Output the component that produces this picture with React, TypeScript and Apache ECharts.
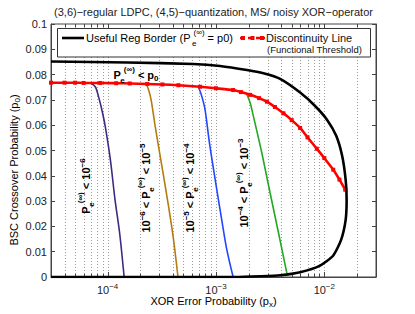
import React, { useEffect, useRef } from 'react';
import * as echarts from 'echarts';

const FF = '"Liberation Sans", Arial, Helvetica, sans-serif';

const titleText = '(3,6)\u2212regular LDPC, (4,5)\u2212quantization, MS/ noisy XOR\u2212operator';
const xAxisTitle = 'XOR Error Probability (p';
const yAxisTitle = 'BSC Crossover Probability (p';
const legendBorderLabel = 'Useful Reg Border (P';
const legendThreshLabel = 'Discontinuity Line';
const legendThreshSub = '(Functional Threshold)';

const xRange = [3e-5, 3e-2];
const yRange = [0, 0.1];
const yTickStep = 0.01;
const xGridTicks = [
  4e-5, 5e-5, 6e-5, 7e-5, 8e-5, 9e-5,
  1e-4, 2e-4, 3e-4, 4e-4, 5e-4, 6e-4, 7e-4, 8e-4, 9e-4,
  1e-3, 2e-3, 3e-3, 4e-3, 5e-3, 6e-3, 7e-3, 8e-3, 9e-3,
  1e-2, 2e-2,
];

// Useful region border (black)
const borderPx = [3.0e-5, 1.52e-4, 6.17e-4, 1.09e-3, 1.93e-3, 2.74e-3, 3.91e-3, 5.98e-3, 8.22e-3, 1.062e-2, 1.285e-2, 1.459e-2, 1.574e-2, 1.607e-2, 1.574e-2, 1.429e-2, 1.205e-2, 9.14e-3, 5.98e-3, 3.91e-3, 2.56e-3, 1.50e-3, 3.0e-5];
const borderP0 = [0.0852, 0.0848, 0.0842, 0.0834, 0.0818, 0.0805, 0.0783, 0.0729, 0.0676, 0.0621, 0.0559, 0.0480, 0.0384, 0.0305, 0.0226, 0.0147, 0.0084, 0.0045, 0.0019, 0.0007, 0.0003, 0, 0];

// Discontinuity line (red)
const threshPx = [3.0e-5, 4e-5, 5e-5, 6e-5, 8.55e-5, 1.2e-4, 1.6e-4, 2.32e-4, 3.2e-4, 4.5e-4, 7.14e-4, 1.0e-3, 1.44e-3, 1.7e-3, 2.07e-3, 2.5e-3, 2.95e-3, 3.5e-3, 4.2e-3, 5.0e-3, 5.98e-3, 7.0e-3, 8.53e-3, 1.0e-2, 1.21e-2, 1.38e-2, 1.56e-2];
const threshP0 = [0.0768, 0.0768, 0.0768, 0.0767, 0.0767, 0.0766, 0.0765, 0.0763, 0.0761, 0.0758, 0.0752, 0.0746, 0.0739, 0.0731, 0.0720, 0.0707, 0.0693, 0.0672, 0.0647, 0.0620, 0.0589, 0.0552, 0.0507, 0.0470, 0.0424, 0.0385, 0.0345];

// Pe < 1e-6 boundary (purple)
const purplePx = [6.91e-5, 7.69e-5, 8.24e-5, 8.85e-5, 9.51e-5, 1.06e-4, 1.17e-4, 1.29e-4, 1.42e-4];
const purpleP0 = [0.0768, 0.0752, 0.0713, 0.0660, 0.0594, 0.0463, 0.0305, 0.0174, 0];

// 1e-6..1e-5 boundary (brown)
const brownPx = [2.27e-4, 2.39e-4, 2.52e-4, 2.75e-4, 3.17e-4, 3.65e-4, 4.06e-4, 4.46e-4];
const brownP0 = [0.0765, 0.0739, 0.0700, 0.0594, 0.0437, 0.0279, 0.0147, 0];

// 1e-5..1e-4 boundary (blue)
const bluePx = [6.86e-4, 7.41e-4, 7.94e-4, 8.71e-4, 9.84e-4, 1.13e-3, 1.26e-3, 1.44e-3];
const blueP0 = [0.0754, 0.0713, 0.0660, 0.0529, 0.0384, 0.0226, 0.0107, 0];

// 1e-4..1e-3 boundary (green)
const greenPx = [1.93e-3, 2.07e-3, 2.22e-3, 2.65e-3, 3.16e-3, 3.78e-3, 4.51e-3];
const greenP0 = [0.0722, 0.0688, 0.0634, 0.0490, 0.0332, 0.0174, 0.0015];

const pairs = (xs: number[], ys: number[]) => xs.map((x, i) => [x, ys[i]]);

function rich(size: number, weight: string) {
  const base = { fontFamily: FF, fontWeight: weight, color: '#111' };
  const small = Math.round(size * 0.75);
  const off = Math.round(size * 0.65);
  const offz = off + 4;
  return {
    n: { ...base, fontSize: size },
    sp: { ...base, fontSize: small, padding: [0, 0, off, 0] },
    sb: { ...base, fontSize: small, padding: [off, 0, 0, 0] },
    spz: { ...base, fontSize: small, padding: [0, 0, offz, 1] },
    sbz: { ...base, fontSize: small, padding: [offz, 0, 0, 1.5], width: 0.5 },
  };
}

const PE = '{n|P}{sbz|e}{spz|(\u221e)}';

export default function App() {
  const ref = useRef<HTMLDivElement>(null);
  useEffect(() => {
    const chart = echarts.init(ref.current as HTMLDivElement, null, { renderer: 'svg' });
    const axisColor = '#444';
    const boldRich = rich(11, 'bold');
    const normRich = rich(11, 'normal');
    const regionLabels = [
      { text: PE + '{n| < 10}{sp|\u22126}', x: 86, y: 186 },
      { text: '{n|10}{sp|\u22126}{n| < }' + PE + '{n| < 10}{sp|\u22125}', x: 146, y: 188 },
      { text: '{n|10}{sp|\u22125}{n| < }' + PE + '{n| < 10}{sp|\u22124}', x: 190, y: 188 },
      { text: '{n|10}{sp|\u22124}{n| < }' + PE + '{n| < 10}{sp|\u22123}', x: 244, y: 183 },
    ];
    const option: any = {
      animation: false,
      grid: { left: 51, top: 24, width: 325, height: 253, show: true, borderColor: axisColor, borderWidth: 1, backgroundColor: 'transparent' },
      xAxis: {
        type: 'log', logBase: 10, min: xRange[0], max: xRange[1],
        axisLine: { show: true, lineStyle: { color: axisColor } },
        axisTick: { show: false },
        splitLine: { show: false },
        axisLabel: {
          margin: 5,
          showMinLabel: false, showMaxLabel: false,
          formatter: (v: number) => {
            const lg = Math.log10(v);
            const e = Math.round(lg);
            if (Math.abs(lg - e) > 1e-6) return '';
            return '{b|10}{s|\u2212' + (-e) + '}';
          },
          rich: {
            b: { fontSize: 11, fontFamily: FF, color: '#222' },
            s: { fontSize: 8, fontFamily: FF, color: '#222', padding: [0, 0, 7, 0] },
          },
        },
      },
      yAxis: [0, 1].map((i) => ({
        type: 'value', min: yRange[0], max: yRange[1], interval: yTickStep,
        position: i === 0 ? 'left' : 'right',
        axisLine: { show: true, lineStyle: { color: axisColor } },
        axisTick: { show: true, inside: true, length: 4, lineStyle: { color: axisColor } },
        splitLine: { show: false },
        axisLabel: { show: i === 0, fontSize: 11, fontFamily: FF, color: '#222', margin: 4 },
      })),
      series: [
        {
          type: 'custom', data: xGridTicks.map((v) => [v, yRange[0]]), encode: { x: 0, y: 1 },
          silent: true, z: 1, clip: false,
          renderItem: (params: any, api: any) => {
            const v = api.value(0);
            const b = api.coord([v, yRange[0]]);
            const t = api.coord([v, yRange[1]]);
            const lg = Math.log10(v);
            const len = Math.abs(lg - Math.round(lg)) < 1e-6 ? 5 : 3;
            const x = Math.round(b[0]) + 0.5;
            return {
              type: 'group',
              children: [
                { type: 'line', shape: { x1: x, y1: b[1], x2: x, y2: t[1] }, style: { stroke: '#9c9c9c', lineWidth: 1, lineDash: [1, 2] } },
                { type: 'line', shape: { x1: x, y1: b[1], x2: x, y2: b[1] - len }, style: { stroke: axisColor, lineWidth: 1 } },
                { type: 'line', shape: { x1: x, y1: t[1], x2: x, y2: t[1] + len }, style: { stroke: axisColor, lineWidth: 1 } },
              ],
            };
          },
        },
        { type: 'line', data: pairs(purplePx, purpleP0), symbol: 'none', smooth: 0.3, lineStyle: { color: '#3f2a7f', width: 1.6 }, z: 3 },
        { type: 'line', data: pairs(brownPx, brownP0), symbol: 'none', smooth: 0.3, lineStyle: { color: '#b27d0e', width: 1.6 }, z: 3 },
        { type: 'line', data: pairs(bluePx, blueP0), symbol: 'none', smooth: 0.3, lineStyle: { color: '#2346ff', width: 1.6 }, z: 3 },
        { type: 'line', data: pairs(greenPx, greenP0), symbol: 'none', smooth: 0.3, lineStyle: { color: '#22a822', width: 1.6 }, z: 3 },
        {
          type: 'line', data: pairs(threshPx, threshP0), symbol: 'rect', symbolSize: 4, showSymbol: true,
          itemStyle: { color: '#ff0000' }, lineStyle: { color: '#ff0000', width: 2.6 }, smooth: 0.2, z: 4,
        },
        { type: 'line', data: pairs(borderPx, borderP0), symbol: 'none', smooth: 0.2, lineStyle: { color: '#000', width: 2.6 }, z: 5 },
      ],
      graphic: [
        { type: 'text', x: 213.5, y: 12, style: { text: titleText, fontSize: 11, fontFamily: FF, fill: '#222', align: 'center', verticalAlign: 'middle' } },
        { type: 'text', x: 14, y: 170, rotation: Math.PI / 2, style: { text: '{n|' + yAxisTitle + '}{sb|0}{n|)}', rich: normRich, align: 'center', verticalAlign: 'middle' } },
        { type: 'text', x: 213.5, y: 301, style: { text: '{n|' + xAxisTitle + '}{sb|x}{n|)}', rich: normRich, align: 'center', verticalAlign: 'middle' } },
        // legend
        { type: 'rect', z: 10, shape: { x: 57.5, y: 28.5, width: 313, height: 28.5 }, style: { fill: '#fff', stroke: '#333', lineWidth: 1 } },
        { type: 'line', z: 11, shape: { x1: 62, y1: 38, x2: 84, y2: 38 }, style: { stroke: '#000', lineWidth: 2.6 } },
        { type: 'text', z: 11, x: 86, y: 38, style: { text: '{n|' + legendBorderLabel + '}{sbz|e}{spz|(\u221e)}{n| = p0)}', rich: normRich, align: 'left', verticalAlign: 'middle' } },
        { type: 'line', z: 11, shape: { x1: 240, y1: 38, x2: 265, y2: 38 }, style: { stroke: '#ff0000', lineWidth: 2.6, lineDash: [5, 3] } },
        { type: 'rect', z: 12, shape: { x: 241, y: 36, width: 4, height: 4 }, style: { fill: '#ff0000' } },
        { type: 'rect', z: 12, shape: { x: 250.5, y: 36, width: 4, height: 4 }, style: { fill: '#ff0000' } },
        { type: 'rect', z: 12, shape: { x: 260, y: 36, width: 4, height: 4 }, style: { fill: '#ff0000' } },
        { type: 'text', z: 11, x: 266, y: 38, style: { text: legendThreshLabel, fontSize: 11, fontFamily: FF, fill: '#111', align: 'left', verticalAlign: 'middle' } },
        { type: 'text', z: 11, x: 267, y: 49, style: { text: legendThreshSub, fontSize: 9.5, fontFamily: FF, fill: '#111', align: 'left', verticalAlign: 'middle' } },
        // region labels
        { type: 'text', z: 8, x: 136, y: 75, style: { text: PE + '{n| < p}{sb|0}', rich: boldRich, align: 'center', verticalAlign: 'middle' } },
        ...regionLabels.map((l) => ({
          type: 'text', z: 8, x: l.x, y: l.y, rotation: Math.PI / 2,
          style: { text: l.text, rich: boldRich, align: 'center', verticalAlign: 'middle' },
        })),
      ],
    };
    chart.setOption(option);
    return () => chart.dispose();
  }, []);
  return <div ref={ref} style={{ position: 'absolute', left: 0, top: 0, width: 415, height: 314, background: '#fff' }} />;
}
